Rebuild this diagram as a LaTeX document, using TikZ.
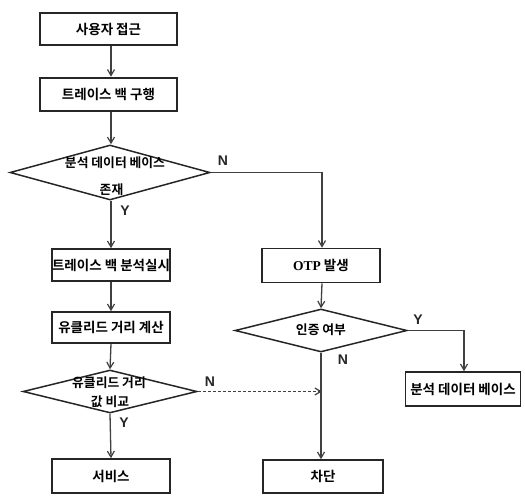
\documentclass[tikz,border=0pt]{standalone}
\usepackage{fontspec}
\setmainfont{Liberation Sans}
\newfontfamily\kr{Noto Sans CJK KR}[BoldFont={Noto Sans CJK KR Bold}]
\newfontfamily\serifotp{Liberation Serif}
\usetikzlibrary{shapes.geometric,arrows.meta}
\begin{document}
\begin{tikzpicture}[x=1pt,y=-1pt,
  box/.style={draw=black!85,line width=1.6pt,rectangle,inner sep=0pt,font=\kr\bfseries\fontsize{13.5}{15}\selectfont},
  thickbox/.style={box,line width=2.6pt},
  dia/.style={draw=black!85,line width=1.5pt,diamond,inner sep=0pt},
  dtext/.style={inner sep=0pt,font=\kr\bfseries\fontsize{12.8}{14}\selectfont},
  yn/.style={inner sep=0pt,font=\bfseries\fontsize{14}{16}\selectfont,text=black!85},
  flow/.style={draw=black!75,line width=1.3pt,-{Straight Barb[length=6pt,width=7pt,line width=1.2pt]}},
  plain/.style={draw=black!75,line width=1.3pt}]
\useasboundingbox (0,0) rectangle (525,497);
\coordinate (spine) at (111,0);
\coordinate (rspine) at (322,0);
% left column
\node[thickbox,minimum width=137pt,minimum height=32pt] (b1) at (108.5,29) {사용자 접근};
\node[thickbox,minimum width=137pt,minimum height=33pt] (b2) at (108.5,94.5) {트레이스 백 구행};
\node[dia,minimum width=200pt,minimum height=55pt] (d1) at (110,172.5) {};
\node[dtext] (d1a) at (115,163) {분석 데이터 베이스};
\node[dtext] (d1b) at (111.5,190) {존재};
\node[box,minimum width=118pt,minimum height=32pt] (b3) at (111,265) {트레이스 백 분석실시};
\node[box,minimum width=118pt,minimum height=31pt] (b4) at (111,327.5) {유클리드 거리 계산};
\node[dia,minimum width=174pt,minimum height=43pt] (d3) at (110,391.5) {};
\node[dtext] (d3a) at (109,383) {유클리드 거리};
\node[dtext] (d3b) at (110,402) {값 비교};
\node[box,minimum width=118pt,minimum height=34pt] (b5) at (111,476) {서비스};
% right column
\node[box,minimum width=118pt,minimum height=34pt] (otp) at (321,265.5) {{\serifotp\bfseries OTP} 발생};
\node[dia,minimum width=172pt,minimum height=43pt] (d2) at (321,330.5) {};
\node[dtext] (d2a) at (321,330) {인증 여부};
\node[box,minimum width=120pt,minimum height=33pt] (cut) at (323,476.5) {차단};
\node[box,minimum width=115pt,minimum height=34pt] (db) at (463,389) {분석 데이터 베이스};
\coordinate (ybend) at (464,330.5);
\coordinate (join) at (322,391.5);
% labels
\node[yn] (n1) at (223,161) {N};
\node[yn] (y1) at (125,211) {Y};
\node[yn] (n2) at (210,382) {N};
\node[yn] (y2) at (124,423) {Y};
\node[yn] (y3) at (418,320) {Y};
\node[yn] (n3) at (343,360) {N};
% connectors
\draw[flow] (b1.south -| spine) -- (b2.north -| spine);
\draw[flow] (b2.south -| spine) -- (d1.north -| spine);
\draw[flow] (d1.south -| spine) -- (b3.north -| spine);
\draw[flow] (b3.south) -- (b4.north);
\draw[flow] (b4.south) -- (d3.north);
\draw[flow] (d3.south) -- (b5.north);
\draw[flow] (d1.east) -| (otp.north -| rspine);
\draw[flow] (otp.south -| rspine) -- (d2.north);
\draw[flow] (d2.east) -- (ybend) -- (db.north -| ybend);
\draw[flow] (d2.south) -- (cut.north -| d2.south);
\draw[flow,densely dashed,line width=1pt] (d3.east) -- (join);
\end{tikzpicture}
\end{document}
